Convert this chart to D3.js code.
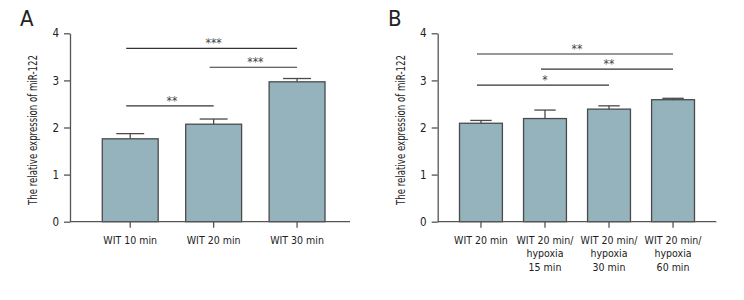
<!DOCTYPE html>
<html>
<head>
<meta charset="utf-8">
<script src="https://cdn.jsdelivr.net/npm/d3@7"></script>
<style>
  body { margin: 0; background: #fff; }
  text { font-family: "DejaVu Sans", sans-serif; font-stretch: condensed; fill: #222; }
</style>
</head>
<body>
<div id="content"></div>
<script>
// panel A data
const catsA = [["WIT 10 min"], ["WIT 20 min"], ["WIT 30 min"]];
const meanA = [1.76, 2.07, 2.97];
const errA  = [1.87, 2.18, 3.04];
const sigA  = [ [0, 2, 3.68, "***"], [1, 2, 3.28, "***"], [0, 1, 2.46, "**"] ];

// panel B data
const catsB = [["WIT 20 min"], ["WIT 20 min/", "hypoxia", "15 min"], ["WIT 20 min/", "hypoxia", "30 min"], ["WIT 20 min/", "hypoxia", "60 min"]];
const meanB = [2.09, 2.19, 2.39, 2.59];
const errB  = [2.15, 2.37, 2.46, 2.62];
const sigB  = [ [0, 3, 3.56, "**"], [1, 3, 3.24, "**"], [0, 2, 2.90, "*"] ];

const yTicks = [0, 1, 2, 3, 4];
const yTitle = "The relative expression of miR-122";

const W = 744, H = 300;
const svg = d3.select("#content").append("svg")
    .attr("width", W).attr("height", H);

function panel(opt){
	const g = svg.append("g")
		.attr("transform", "translate(" + opt.left + ",0)");

	const y = d3.scaleLinear().domain([0, 4]).range([221.7, 33.3]);
	const x = d3.scaleBand()
		.domain(opt.cats.map((d, i) => i))
		.range(opt.xr)
		.paddingInner(0.33)
		.paddingOuter(0.2);

	// panel letter
	svg.append("text")
		.attr("x", opt.letterX).attr("y", 26)
		.attr("font-size", 22)
		.text(opt.letter);

	// y axis title
	g.append("text")
		.attr("transform", "translate(" + opt.titleX + ",130) rotate(-90)")
		.attr("text-anchor", "middle")
		.attr("font-size", 12)
		.attr("textLength", 150)
		.attr("lengthAdjust", "spacingAndGlyphs")
		.text(yTitle);

	// bars
	g.selectAll(".bar").data(opt.mean).enter()
		.append("rect")
		.attr("class", "bar")
		.attr("x", (d, i) => x(i))
		.attr("y", d => y(d))
		.attr("width", x.bandwidth())
		.attr("height", d => y(0) - y(d))
		.attr("fill", "#95b3bc")
		.attr("stroke", "#4a4a4a")
		.attr("stroke-width", 1.3);

	// error bars
	const cap = x.bandwidth() * 0.25;
	opt.err.forEach((e, i) => {
		const cx = x(i) + x.bandwidth() / 2;
		g.append("line")
			.attr("x1", cx).attr("x2", cx)
			.attr("y1", y(opt.mean[i])).attr("y2", y(e))
			.attr("stroke", "#4a4a4a").attr("stroke-width", 1.3);
		g.append("line")
			.attr("x1", cx - cap).attr("x2", cx + cap)
			.attr("y1", y(e)).attr("y2", y(e))
			.attr("stroke", "#4a4a4a").attr("stroke-width", 1.3);
	});

	// y axis
	const yAxis = g.append("g")
		.call(d3.axisLeft(y).tickValues(yTicks).tickFormat(d3.format("d"))
			.tickSize(6).tickPadding(5).tickSizeOuter(0));
	yAxis.select(".domain").attr("stroke", "#555").attr("stroke-width", 1.3);
	yAxis.selectAll(".tick line").attr("stroke", "#555").attr("stroke-width", 1.3);
	yAxis.selectAll(".tick text").attr("font-size", 11.5).attr("font-family", null);

	// x axis
	g.append("line")
		.attr("x1", 0).attr("x2", opt.axisW)
		.attr("y1", y(0)).attr("y2", y(0))
		.attr("stroke", "#555").attr("stroke-width", 1.3);
	const xAxis = g.append("g")
		.attr("transform", "translate(0," + y(0) + ")")
		.call(d3.axisBottom(x).tickSize(6).tickFormat(""));
	xAxis.select(".domain").remove();
	xAxis.selectAll(".tick line").attr("stroke", "#555").attr("stroke-width", 1.3);

	opt.cats.forEach((lines, i) => {
		const t = g.append("text")
			.attr("text-anchor", "middle")
			.attr("font-size", 10.5)
			.attr("x", x(i) + x.bandwidth() / 2)
			.attr("y", 244);
		lines.forEach((s, k) => {
			t.append("tspan")
				.attr("x", x(i) + x.bandwidth() / 2)
				.attr("dy", k === 0 ? 0 : 13.3)
				.text(s);
		});
	});

	// significance brackets
	opt.sig.forEach(s => {
		const x1 = x(s[0]) + x.bandwidth() / 2 - 4;
		const x2 = x(s[1]) + x.bandwidth() / 2;
		g.append("line")
			.attr("x1", x1).attr("x2", x2)
			.attr("y1", y(s[2])).attr("y2", y(s[2]))
			.attr("stroke", "#333").attr("stroke-width", 1.1);
		g.append("text")
			.attr("x", (x1 + x2) / 2 + 2)
			.attr("y", y(s[2]) - 1)
			.attr("text-anchor", "middle")
			.attr("font-size", 12)
			.style("fill", "#444")
			.text(s[3]);
	});
}

panel({ left: 70, xr: [15.6, 271.7], axisW: 280, cats: catsA, mean: meanA, err: errA, sig: sigA,
        letter: "A", letterX: 20, titleX: -33 });
panel({ left: 437.7, xr: [9, 269.6], axisW: 278.6, cats: catsB, mean: meanB, err: errB, sig: sigB,
        letter: "B", letterX: 388, titleX: -33 });
</script>
</body>
</html>
